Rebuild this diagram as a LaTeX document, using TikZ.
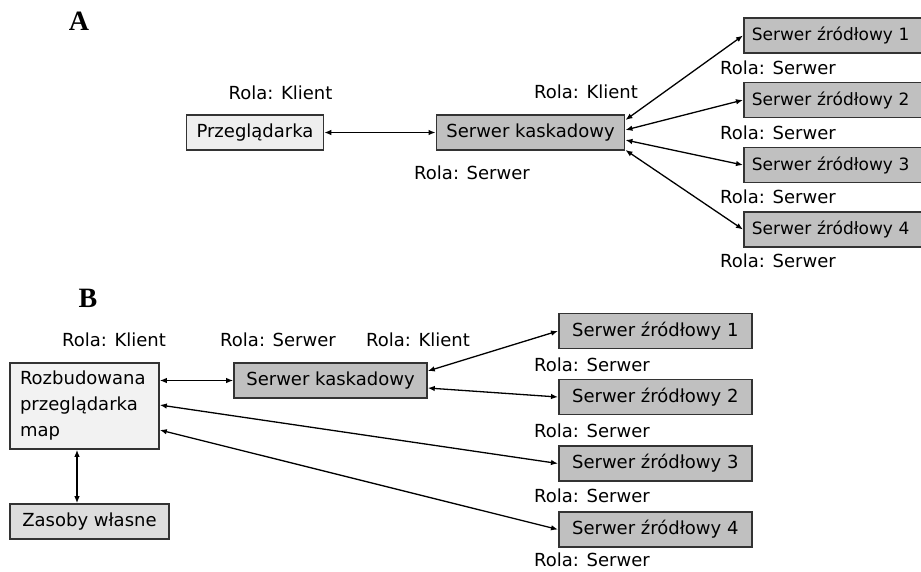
\documentclass[tikz,border=0pt]{standalone}
\usepackage{fontspec}
\setmainfont{DejaVu Sans}
\newfontfamily\labfont{Liberation Serif}
\usepackage{tikz}
\usetikzlibrary{arrows.meta}
\definecolor{srvgray}{HTML}{C0C0C0}
\definecolor{kligray}{HTML}{EEEEEE}
\definecolor{mapgray}{HTML}{F2F2F2}
\definecolor{zasgray}{HTML}{DDDDDD}
\definecolor{edgegray}{HTML}{333333}
\tikzset{
  box/.style={draw=edgegray,line width=1.6pt,minimum height=35pt,inner xsep=10pt,
              font=\fontsize{18}{26}\selectfont},
  srvbox/.style={box,fill=srvgray},
  klibox/.style={box,fill=kligray},
  role/.style={font=\fontsize{18}{21}\selectfont,inner sep=0pt},
  panel/.style={font=\labfont\fontsize{28}{30}\selectfont\bfseries,inner sep=0pt},
  conn/.style={line width=1.3pt,{Latex[length=7pt,width=5.5pt]}-{Latex[length=7pt,width=5.5pt]}}
}
\begin{document}
\begin{tikzpicture}[x=1pt,y=-1pt]
\useasboundingbox (0,0) rectangle (921,571);
%panel A
\node[panel] (labA) at (79,21) {A};
\node[klibox,minimum width=134pt] (przeg) at (255,132.5) {Przeglądarka};
\node[srvbox,minimum width=187pt] (kaskA) at (530.5,132.5) {Serwer kaskadowy};
\node[role] (rkA1) at (280.5,93) {Rola: Klient};
\node[role] (rkA2) at (586,92) {Rola: Klient};
\node[role] (rsA) at (472,173) {Rola: Serwer};
%source servers A (cut by the right edge)
\foreach \i/\y/\r in {1/35.5/68,2/100/133,3/165/197,4/229.5/261}
{
\node[srvbox,minimum width=193pt,inner xsep=8pt,anchor=west,font=\fontsize{17}{20}\selectfont,
      text width=177pt] (zrA\i) at (743,\y) {Serwer źródłowy \i};
\node[role,anchor=west] (rzA\i) at (720,\r) {Rola: Serwer};
}
\draw[conn] (przeg) -- (kaskA);
\foreach \i/\s in {1/12.5,2/2.5,3/-7.5,4/-17.5}
{
\draw[conn] ([yshift=\s pt]kaskA.east) -- (zrA\i.west);
}
%panel B
\node[panel] (labB) at (88,298) {B};
\node[box,fill=mapgray,minimum width=149pt,minimum height=86pt,text width=129pt,align=left] (rozb) at (84.5,406) {Rozbudowana\\przeglądarka\\map};
\node[box,fill=zasgray,minimum width=159pt] (zas) at (89.5,521.5) {Zasoby własne};
\node[srvbox,minimum width=193pt] (kaskB) at (330.5,380.5) {Serwer kaskadowy};
\node[role] (rkB1) at (114,340) {Rola: Klient};
\node[role] (rsB) at (278,340) {Rola: Serwer};
\node[role] (rkB2) at (418,340) {Rola: Klient};
%source servers B
\foreach \i/\y/\r in {1/331/365,2/397/431,3/463.5/496,4/529.5/560}
{
\node[srvbox,minimum width=193pt,anchor=west] (zrB\i) at (558,\y) {Serwer źródłowy \i};
\node[role,anchor=west] (rzB\i) at (534,\r) {Rola: Serwer};
}
\draw[conn] (kaskB.west -| rozb.east) -- (kaskB.west);
\draw[conn] ([yshift=9.5pt]kaskB.east) -- (zrB1.west);
\draw[conn] ([yshift=-7.5pt]kaskB.east) -- (zrB2.west);
\draw[conn] ([yshift=1pt]rozb.east) -- (zrB3.west);
\draw[conn] ([yshift=-24pt]rozb.east) -- (zrB4.west);
\draw[conn] ([xshift=-7.5pt]rozb.south) -- ([xshift=-12.5pt]zas.north);
\end{tikzpicture}
\end{document}
